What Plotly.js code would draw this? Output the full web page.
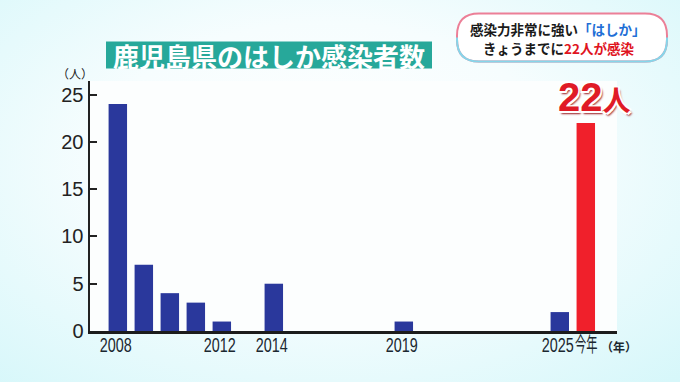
<!DOCTYPE html>
<html>
<head>
<meta charset="utf-8">
<script src="https://cdn.plot.ly/plotly-3.0.1.min.js"></script>
<style>
  html, body { margin: 0; padding: 0; }
  body {
    width: 680px; height: 382px; overflow: hidden;
    background: radial-gradient(ellipse 75% 80% at 48% 42%, #ffffff 0%, #f6fdfe 45%, #d6f7fa 100%);
  }
  #chart { width: 680px; height: 382px; }
</style>
</head>
<body>
<div id="chart"></div>
<script>
// ---- data ----
const years = [2008, 2009, 2010, 2011, 2012, 2014, 2019, 2025, 2026];
const cases = [24, 7, 4, 3, 1, 5, 1, 2, 22];
const currentYear = 2026;
const tickYears = [2008, 2012, 2014, 2019, 2025, 2026];
const tickLabels = ['2008', '2012', '2014', '2019', '2025', '今年'];
const yTicks = [0, 5, 10, 15, 20, 25];
const chartTitle = '鹿児島県のはしか感染者数';
const headline1a = '感染力非常に強い';
const headline1b = '「はしか」';
const headline2a = 'きょうまでに';
const headline2b = '22人が感染';
const currentLabel = '22';
const unitPerson = '人';

// ---- layout helpers ----
const Wd = 680, Ht = 382, ML = 90, MR = 63, MT = 81, MB = 51;
const PW = Wd - ML - MR, PH = Ht - MT - MB;
const px = p => (p - ML) / PW;
const py = p => 1 - (p - MT) / PH;

const BLUE = '#2a389c';
const RED = '#f0202b';
const barColors = years.map(y => y === currentYear ? RED : BLUE);

function pill(x0, y0, x1, y1, r, half) {
  const P = (x, y) => px(x) + ',' + py(y);
  if (half === 'bottom') {
    const ym = (y0 + y1) / 2;
    return 'M' + P(x0, ym) + ' L' + P(x0, y1 - r) + ' Q' + P(x0, y1) + ' ' + P(x0 + r, y1) +
      ' L' + P(x1 - r, y1) + ' Q' + P(x1, y1) + ' ' + P(x1, y1 - r) + ' L' + P(x1, ym);
  }
  return 'M' + P(x0 + r, y0) + ' L' + P(x1 - r, y0) + ' Q' + P(x1, y0) + ' ' + P(x1, y0 + r) +
    ' L' + P(x1, y1 - r) + ' Q' + P(x1, y1) + ' ' + P(x1 - r, y1) +
    ' L' + P(x0 + r, y1) + ' Q' + P(x0, y1) + ' ' + P(x0, y1 - r) +
    ' L' + P(x0, y0 + r) + ' Q' + P(x0, y0) + ' ' + P(x0 + r, y0) + ' Z';
}

const CJK = '"Noto Sans CJK JP", "Noto Sans", sans-serif';
const LAB = '"Liberation Sans", Arial, "Noto Sans CJK JP", sans-serif';

const trace = {
  type: 'bar',
  x: years,
  y: cases,
  width: 0.71,
  marker: { color: barColors, line: { width: 0 } },
  hoverinfo: 'x+y'
};

const layout = {
  width: Wd, height: Ht,
  margin: { l: ML, r: MR, t: MT, b: MB, pad: 0 },
  paper_bgcolor: 'rgba(0,0,0,0)',
  plot_bgcolor: '#fcfefe',
  showlegend: false,
  xaxis: {
    range: [2006.93, 2027.2],
    tickmode: 'array',
    tickvals: tickYears,
    ticktext: tickLabels,
    tickangle: 0,
    ticks: '',
    showgrid: false, zeroline: false,
    showline: true, linewidth: 3, linecolor: '#1c1c1c',
    tickfont: { family: LAB, size: 20, color: '#1b2830' },
    ticklabelstandoff: -6,
    ticklabelshift: -2,
    fixedrange: true
  },
  yaxis: {
    range: [0, 26.43],
    tickmode: 'array',
    tickvals: yTicks,
    ticks: 'inside', ticklen: 7, tickwidth: 2, tickcolor: '#222',
    showgrid: false, zeroline: false,
    showline: true, linewidth: 2.5, linecolor: '#222',
    tickfont: { family: LAB, size: 20, color: '#222' },
    ticklabelstandoff: 0,
    fixedrange: true
  },
  shapes: [
    { type: 'rect', xref: 'paper', yref: 'paper', layer: 'above',
      x0: px(106), x1: px(432), y0: py(68.5), y1: py(41.5),
      fillcolor: '#27a89a', line: { width: 0 } },
    { type: 'path', xref: 'paper', yref: 'paper', layer: 'above',
      path: pill(457, 13.5, 667, 61.5, 22, 'all'),
      fillcolor: '#ffffff', line: { color: '#ec7f97', width: 2 } },
    { type: 'path', xref: 'paper', yref: 'paper', layer: 'above',
      path: pill(457, 13.5, 667, 61.5, 22, 'bottom'),
      fillcolor: 'rgba(0,0,0,0)', line: { color: '#86d6ea', width: 2 } }
  ],
  annotations: [
    { xref: 'paper', yref: 'paper', x: px(269), y: py(55.5), showarrow: false,
      xanchor: 'center', yanchor: 'middle', text: chartTitle,
      font: { family: CJK, size: 26, color: '#ffffff', weight: 'bold' } },
    { xref: 'paper', yref: 'paper', x: px(557.5), y: py(28.5), showarrow: false,
      xanchor: 'center', yanchor: 'middle',
      text: headline1a + '<span style="color:#1f6fd6">' + headline1b + '</span>',
      font: { family: CJK, size: 13.5, color: '#1a1a1a', weight: 'bold' } },
    { xref: 'paper', yref: 'paper', x: px(558), y: py(47.5), showarrow: false,
      xanchor: 'center', yanchor: 'middle',
      text: headline2a + '<span style="color:#e0141e">' + headline2b + '</span>',
      font: { family: CJK, size: 13.5, color: '#1a1a1a', weight: 'bold' } },
    { xref: 'paper', yref: 'paper', x: px(74.7), y: py(73), showarrow: false,
      xanchor: 'center', yanchor: 'middle', text: '（' + unitPerson + '）',
      font: { family: CJK, size: 12, color: '#222' } },
    { xref: 'paper', yref: 'paper', x: px(619), y: py(346), showarrow: false,
      xanchor: 'center', yanchor: 'middle', text: '（年）',
      font: { family: CJK, size: 12, color: '#1b2830', weight: 'bold' } },
    { xref: 'x', yref: 'y', x: currentYear, y: cases[cases.length - 1], showarrow: false,
      xanchor: 'center', yanchor: 'bottom', xshift: 9, yshift: 2,
      text: currentLabel + '<span style="font-size:28px">' + unitPerson + '</span>',
      font: { family: LAB, size: 40, color: '#e01b26', weight: 'bold',
              shadow: '1.5px 1.5px 0 #ffffff, -1.5px -1.5px 0 #ffffff, 1.5px -1.5px 0 #ffffff, -1.5px 1.5px 0 #ffffff, 2px 3px 2px #9a1a20' } }
  ]
};

Plotly.newPlot('chart', [trace], layout, { displayModeBar: false, staticPlot: true }).then(gd => {
  // condense the x tick labels horizontally like the reference's narrow typeface
  gd.querySelectorAll('.xtick text').forEach(t => {
    const w = t.getComputedTextLength();
    const isDigits = /^[0-9]+$/.test(t.textContent);
    t.setAttribute('textLength', (w * (isDigits ? 0.72 : 0.56)).toFixed(1));
    t.setAttribute('lengthAdjust', 'spacingAndGlyphs');
    if (!isDigits) t.setAttribute('dx', '2.5');
  });
});
</script>
</body>
</html>
